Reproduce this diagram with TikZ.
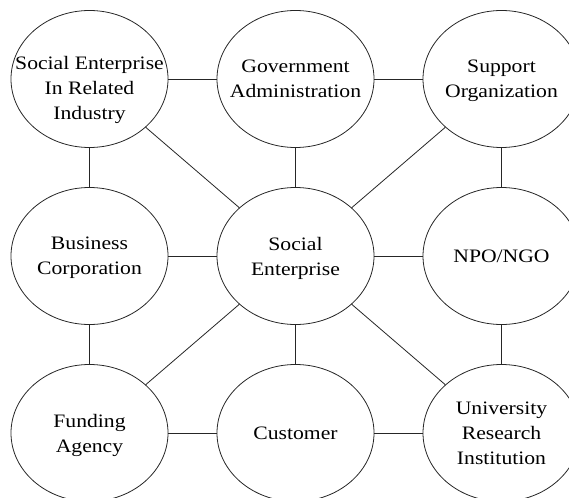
\documentclass[tikz,border=0pt]{standalone}
\usepackage{fontspec}
\setmainfont{Liberation Serif}[FakeStretch=1.14]
\usetikzlibrary{shapes.geometric}
\begin{document}
\begin{tikzpicture}[x=1pt,y=-1pt,
  ell/.style={ellipse, draw=black!85, line width=0.8pt, minimum width=157pt, minimum height=137pt, inner sep=0pt},
  lbl/.style={align=center, font=\fontsize{19}{25}\selectfont, text depth=0pt, inner sep=0pt},
  link/.style={draw=black!85, line width=0.8pt}]
\useasboundingbox (0,0) rectangle (569,497);
\clip (0,0) rectangle (569,497);
% ellipses
\node[ell] (tl) at (89.5,79) {};
\node[ell] (tm) at (295.5,79) {};
\node[ell] (tr) at (501.5,79) {};
\node[ell] (ml) at (89.5,256) {};
\node[ell] (mm) at (295.5,256) {};
\node[ell] (mr) at (501.5,256) {};
\node[ell] (bl) at (89.5,433) {};
\node[ell] (bm) at (295.5,433) {};
\node[ell] (br) at (501.5,433) {};
% texts
\node[lbl] (tlt) at ([yshift=-8.5pt]tl.center) {Social Enterprise\\In Related\\Industry};
\node[lbl] (tmt) at (tm.center) {Government\\Administration};
\node[lbl] (trt) at (tr.center) {Support\\Organization};
\node[lbl] (mlt) at (ml.center) {Business\\Corporation};
\node[lbl] (mmt) at (mm.center) {Social\\Enterprise};
\node[lbl] (mrt) at (mr.center) {NPO/NGO};
\node[lbl] (blt) at (bl.center) {Funding\\Agency};
\node[lbl] (bmt) at (bm.center) {Customer};
\node[lbl] (brt) at (br.center) {University\\Research\\Institution};
% connectors
\path[link] (tl) -- (tm);
\path[link] (tm) -- (tr);
\path[link] (ml) -- (mm);
\path[link] (mm) -- (mr);
\path[link] (bl) -- (bm);
\path[link] (bm) -- (br);
\path[link] (tl) -- (ml);
\path[link] (ml) -- (bl);
\path[link] (tm) -- (mm);
\path[link] (mm) -- (bm);
\path[link] (tr) -- (mr);
\path[link] (mr) -- (br);
\path[link] (tl) -- (mm);
\path[link] (tr) -- (mm);
\path[link] (bl) -- (mm);
\path[link] (br) -- (mm);
\end{tikzpicture}
\end{document}
